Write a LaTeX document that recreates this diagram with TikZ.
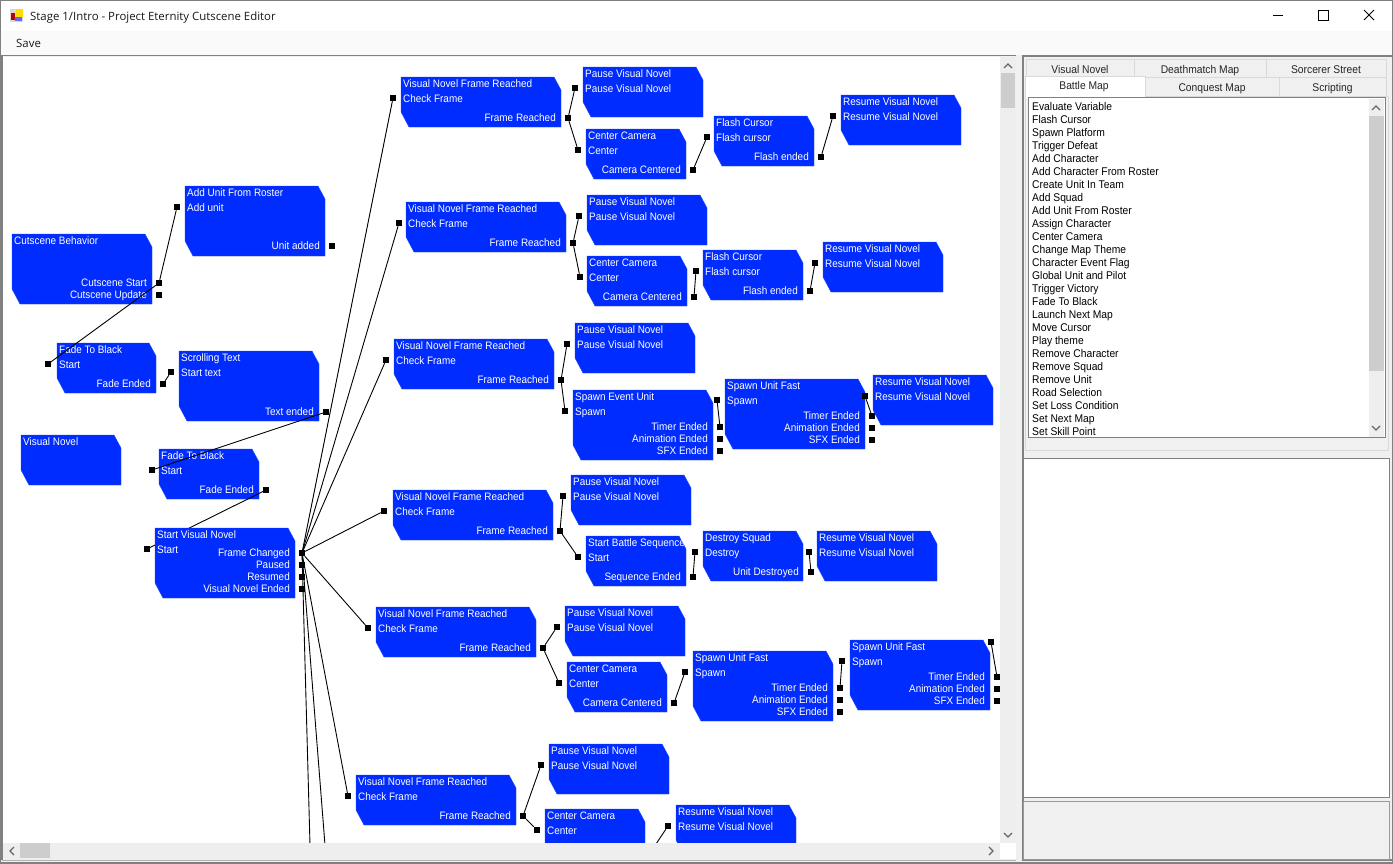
\documentclass[tikz,border=0pt]{standalone}
\usepackage{fontspec}
\setmainfont{Liberation Sans}
\newfontfamily\uifont{Open Sans}
\newfontfamily\narrowfont[FakeStretch=0.92]{Liberation Sans}
\usetikzlibrary{calc}
\definecolor{evblue}{HTML}{002CFF}
\definecolor{evedge}{HTML}{1C48FF}
\definecolor{winbg}{HTML}{F0F0F0}
\definecolor{barbg}{HTML}{EEEEEE}
\definecolor{thumb}{HTML}{CDCDCD}
\definecolor{frameln}{HTML}{808080}
\definecolor{tabln}{HTML}{D9D9D9}
\begin{document}
\begin{tikzpicture}
[x=1pt,y=-1pt,
%
blockfill/.style={fill=evblue,draw=evedge,line width=.4pt},
block/.style={shape=rectangle,inner sep=0pt,outer sep=0pt,
   append after command={\pgfextra{\let\blk\tikzlastnode
   \draw[blockfill] (\blk.north west) -- ($(\blk.north east)+(-7,0)$) -- ($(\blk.north east)+(0,13)$)
      -- (\blk.south east) -- ($(\blk.south west)+(8,0)$) -- ($(\blk.south west)+(0,-15)$) -- cycle;}}},
blocktext/.style={font=\narrowfont\fontsize{10.8}{12}\selectfont,text=white,inner sep=0pt,anchor=base west},
outtext/.style={blocktext,anchor=base east},
port/.style={shape=rectangle,fill=black,inner sep=0pt,minimum size=6pt},
conn/.style={draw,black,line width=.9pt},
%
tabtext/.style={font=\narrowfont\fontsize{11.2}{13}\selectfont,inner sep=0pt,anchor=base,text=black!85},
listtext/.style={font=\narrowfont\fontsize{11.2}{13}\selectfont,inner sep=0pt,anchor=base west,text=black},
uitext/.style={font=\uifont\fontsize{11.4}{14}\selectfont,inner sep=0pt,anchor=base west,text=black!90},
chevron/.style={draw=black!60,line width=1.3pt}]
%
\useasboundingbox (0,0) rectangle (1393,863);
% window
\fill[winbg] (0,0) rectangle (1393,863);
\fill[white] (1,1) rectangle (1392,31);
\fill[black!2] (1,31) rectangle (1392,55);
\fill[white] (3,57) rectangle (1000,843);
%%
% blocks with an input
\foreach \bn/\bx/\by/\w/\h/\ttl/\act/\ix in {
   addunit/185/186/140/70/Add Unit From Roster/Add unit/177,
   fadea/57/343/99/50/Fade To Black/Start/48,
   scroll/179/351/140/70/Scrolling Text/Start text/171,
   fadeb/159/449/100/50/Fade To Black/Start/152,
   %
   frameA/401/77/160/50/Visual Novel Frame Reached/Check Frame/393,
   frameB/406/202/160/50/Visual Novel Frame Reached/Check Frame/399,
   frameC/394/339/160/50/Visual Novel Frame Reached/Check Frame/386,
   frameD/393/490/160/50/Visual Novel Frame Reached/Check Frame/384,
   frameE/376/607/160/50/Visual Novel Frame Reached/Check Frame/368,
   frameF/356/775/160/50/Visual Novel Frame Reached/Check Frame/348,
   %
   pauseA/583/67/120/50/Pause Visual Novel/Pause Visual Novel/575,
   pauseB/587/195/120/50/Pause Visual Novel/Pause Visual Novel/579,
   pauseC/575/323/120/50/Pause Visual Novel/Pause Visual Novel/567,
   pauseD/571/475/120/50/Pause Visual Novel/Pause Visual Novel/563,
   pauseE/565/606/120/50/Pause Visual Novel/Pause Visual Novel/557,
   pauseF/549/744/120/50/Pause Visual Novel/Pause Visual Novel/541,
   %
   camA/586/129/100/50/Center Camera/Center/578,
   camB/587/256/100/50/Center Camera/Center/580,
   spawnC/573/390/140/70/Spawn Event Unit/Spawn/565,
   battleD/586/536/100/50/Start Battle Sequence/Start/578,
   camE/567/662/100/50/Center Camera/Center/559,
   camF/545/809/100/50/Center Camera/Center/537,
   %
   flashA/714/116/100/50/Flash Cursor/Flash cursor/707,
   flashB/703/250/100/50/Flash Cursor/Flash cursor/696,
   fastC/725/379/140/70/Spawn Unit Fast/Spawn/717,
   squadD/703/531/100/50/Destroy Squad/Destroy/695,
   fastE/693/651/140/70/Spawn Unit Fast/Spawn/685,
   resumeF/676/805/120/50/Resume Visual Novel/Resume Visual Novel/668,
   %
   resumeA/841/95/120/50/Resume Visual Novel/Resume Visual Novel/833,
   resumeB/823/242/120/50/Resume Visual Novel/Resume Visual Novel/815,
   resumeC/873/375/120/50/Resume Visual Novel/Resume Visual Novel/865,
   resumeD/817/531/120/50/Resume Visual Novel/Resume Visual Novel/809,
   fastEb/850/640/140/70/Spawn Unit Fast/Spawn/842}
{
   \node (\bn) [block,minimum width=\w pt,minimum height=\h pt] at ({\bx+\w/2},{\by+\h/2}) {};
   \node (\bn-ttl) [blocktext] at (\bx+2,\by+10) {\ttl};
   \node (\bn-act) [blocktext] at (\bx+2,\by+25) {\act};
   \coordinate (\bn-pos) at (\ix,\by+21);
}
%%
% blocks with no input
\node (behavior) [block,minimum width=140pt,minimum height=70pt] at (82,269) {};
\node (behavior-ttl) [blocktext] at (14,244) {Cutscene Behavior};
\node (novel) [block,minimum width=100pt,minimum height=50pt] at (71,460) {};
\node (novel-ttl) [blocktext] at (23,445) {Visual Novel};
%%
% output labels
\foreach \pn/\px/\py/\lbl in {
   behaviorS/159/283/Cutscene Start,
   behaviorU/159/295/Cutscene Update,
   addunitO/332/246/Unit added,
   fadeaO/163/384/Fade Ended,
   scrollO/326/412/Text ended,
   fadebO/266/490/Fade Ended,
   frameAO/568/118/Frame Reached,
   frameBO/573/243/Frame Reached,
   frameCO/561/380/Frame Reached,
   frameDO/560/531/Frame Reached,
   frameEO/543/648/Frame Reached,
   frameFO/523/816/Frame Reached,
   camAO/693/170/Camera Centered,
   camBO/694/297/Camera Centered,
   spawnCT/720/427/Timer Ended,
   spawnCA/720/439/Animation Ended,
   spawnCS/720/451/SFX Ended,
   battleDO/693/577/Sequence Ended,
   camEO/674/703/Camera Centered,
   flashAO/821/157/Flash ended,
   flashBO/810/291/Flash ended,
   fastCT/872/416/Timer Ended,
   fastCA/872/428/Animation Ended,
   fastCS/872/440/SFX Ended,
   squadDO/811/572/Unit Destroyed,
   fastET/840/688/Timer Ended,
   fastEA/840/700/Animation Ended,
   fastES/840/712/SFX Ended,
   fastEbT/997/677/Timer Ended,
   fastEbA/997/689/Animation Ended,
   fastEbS/997/701/SFX Ended}
{
   \node (\pn-lbl) [outtext] at (\px-12,\py+3.5) {\lbl};
   \node (\pn) [port] at (\px,\py) {};
}
%%
% input ports
\foreach \bn in {addunit,fadea,scroll,fadeb,
   frameA,frameB,frameC,frameD,frameE,frameF,
   pauseA,pauseB,pauseC,pauseD,pauseE,pauseF,
   camA,camB,spawnC,battleD,camE,camF,
   flashA,flashB,fastC,squadD,fastE,resumeF,
   resumeA,resumeB,resumeC,resumeD,fastEb}
   \node (\bn-in) [port] at (\bn-pos) {};
%%
\node (startvn-in) [port] at (147,549) {};
\node (nextin) [port] at (991,642) {};
\node (camFO) [port] at (652,850) {};
\coordinate (offA) at (310,845);
\coordinate (offB) at (325,845);
%%
% this link runs under the block that is drawn after it
\draw[conn] (fadebO) -- (startvn-in);
\node (startvn) [block,minimum width=140pt,minimum height=70pt] at (225,563) {};
\node (startvn-ttl) [blocktext] at (157,538) {Start Visual Novel};
\node (startvn-act) [blocktext] at (157,553) {Start};
\foreach \pn/\py/\lbl in {startvnF/553/Frame Changed,startvnP/565/Paused,
   startvnR/577/Resumed,startvnE/589/Visual Novel Ended}
{
   \node (\pn-lbl) [outtext] at (290,\py+3.5) {\lbl};
   \node (\pn) [port] at (302,\py) {};
}
%%
% links
\foreach \a/\b in {
   behaviorS/addunit-in,behaviorS/fadea-in,fadeaO/scroll-in,scrollO/fadeb-in,
   startvnF/frameA-in,startvnF/frameB-in,startvnF/frameC-in,startvnF/frameD-in,
   startvnF/frameE-in,startvnF/frameF-in,startvnF/offA,startvnF/offB,
   frameAO/pauseA-in,frameAO/camA-in,camAO/flashA-in,flashAO/resumeA-in,
   frameBO/pauseB-in,frameBO/camB-in,camBO/flashB-in,flashBO/resumeB-in,
   frameCO/pauseC-in,frameCO/spawnC-in,spawnCT/fastC-in,fastCT/resumeC-in,
   frameDO/pauseD-in,frameDO/battleD-in,battleDO/squadD-in,squadDO/resumeD-in,
   frameEO/pauseE-in,frameEO/camE-in,camEO/fastE-in,fastET/fastEb-in,fastEbT/nextin,
   frameFO/pauseF-in,frameFO/camF-in,camFO/resumeF-in}
   \draw[conn] (\a) -- (\b);
%%
% scroll bars
\fill[barbg] (1000,57) rectangle (1016,843);
\fill[thumb] (1001,73) rectangle (1015,108);
\fill[barbg] (3,843) rectangle (1000,859);
\fill[thumb] (20,843) rectangle (50,858);
\fill[white] (1000,843) rectangle (1016,859);
\draw[chevron] (1004,68) -- (1008,64) -- (1012,68);
\draw[chevron] (1004,833) -- (1008,837) -- (1012,833);
\draw[chevron] (14,847) -- (10,851) -- (14,855);
\draw[chevron] (989,847) -- (993,851) -- (989,855);
%%
% frame lines
\fill[winbg] (0,859) rectangle (1393,863);
\draw[frameln,line width=1.2pt] (0,55.5) -- (1016,55.5);
\draw[frameln,line width=1.5pt] (2,56) -- (2,860);
\draw[black!30,line width=.8pt] (2,860) -- (1016,860);
\draw[frameln,line width=2pt] (0,0) -- (0,863) -- (1393,863) -- (1393,0);
\draw[frameln,line width=1pt] (0,.5) -- (1393,.5);
%%
% title bar
\fill[black!15] (10,9) rectangle (23,22);
\fill[yellow!80!orange] (16,9) rectangle (23,17);
\fill[red!75!black] (11,13) rectangle (15,20);
\fill[blue!60!white] (15,17) rectangle (22,21);
\node (titletext) [uitext] at (30,20) {Stage 1/Intro - Project Eternity Cutscene Editor};
\node (savetext) [uitext] at (16,47) {Save};
\draw[black,line width=.9pt] (1273,15.5) -- (1283,15.5);
\draw[black,line width=.9pt] (1318.5,10.5) rectangle (1328.5,20.5);
\draw[black,line width=.9pt] (1364,10) -- (1374,20) (1374,10) -- (1364,20);
%%
% right panel
\draw[frameln,line width=1.2pt] (1391.5,56) -- (1023,56) -- (1023,860) -- (1391.5,860);
\draw[tabln,fill=winbg] (1025,96) rectangle (1388,450);
%%
\foreach \tn/\xa/\xb/\lbl in {tabvn/1026/1134/Visual Novel,tabdm/1134/1266/Deathmatch Map,tabss/1266/1386/Sorcerer Street}
{
   \draw[tabln,fill=winbg] (\xa,59) rectangle (\xb,77);
   \node (\tn) [tabtext] at ({(\xa+\xb)/2},73) {\lbl};
}
\foreach \tn/\xa/\xb/\lbl in {tabcq/1145/1279/Conquest Map,tabsc/1279/1386/Scripting}
{
   \draw[tabln,fill=winbg] (\xa,77) rectangle (\xb,96);
   \node (\tn) [tabtext] at ({(\xa+\xb)/2},91) {\lbl};
}
\draw[tabln,fill=white] (1025,96.5) -- (1025,76) -- (1145,76) -- (1145,96.5);
\fill[white] (1025.5,92) rectangle (1144.5,98);
\node (tabbm) [tabtext] at (1084,89) {Battle Map};
%%
% action list
\draw[frameln,fill=white,line width=.9pt] (1028.5,97.5) rectangle (1385.5,437.5);
\fill[barbg] (1369,98.5) rectangle (1384,437);
\fill[thumb] (1369,116) rectangle (1384,371);
\draw[chevron] (1372,110) -- (1376,106) -- (1380,110);
\draw[chevron] (1372,426) -- (1376,430) -- (1380,426);
\foreach \lbl [count=\i from 0] in {Evaluate Variable,Flash Cursor,Spawn Platform,Trigger Defeat,
   Add Character,Add Character From Roster,Create Unit In Team,Add Squad,Add Unit From Roster,
   Assign Character,Center Camera,Change Map Theme,Character Event Flag,Global Unit and Pilot,
   Trigger Victory,Fade To Black,Launch Next Map,Move Cursor,Play theme,Remove Character,
   Remove Squad,Remove Unit,Road Selection,Set Loss Condition,Set Next Map,Set Skill Point}
   \node (item\i) [listtext] at (1032,110+13*\i) {\lbl};
%%
% lower panels
\draw[frameln,fill=white,line width=.9pt] (1023.5,458.5) rectangle (1389.5,797.5);
\draw[black!40,fill=winbg] (1023.5,801.5) rectangle (1389.5,859.5);
\end{tikzpicture}
\end{document}
